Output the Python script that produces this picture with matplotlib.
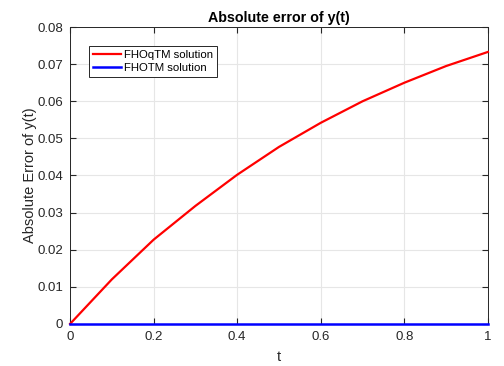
import matplotlib
matplotlib.use("Agg")
import matplotlib.pyplot as plt

plt.rcParams['font.family'] = ['Liberation Sans', 'DejaVu Sans']

t = [0.0, 0.1, 0.2, 0.3, 0.4, 0.5, 0.6, 0.7, 0.8, 0.9, 1.0]
err_fhoqtm = [0.0, 0.0120, 0.0227, 0.0318, 0.0402, 0.0477, 0.0542, 0.0600, 0.0650, 0.0695, 0.0733]
err_fhotm = [0.0, 0.0, 0.0, 0.0, 0.0, 0.0, 0.0, 0.0, 0.0, 0.0, 0.0]

fig = plt.figure(figsize=(5.04, 3.66), dpi=100)
ax = fig.add_axes([0.139, 0.115, 0.829, 0.811])

ax.plot(t, err_fhoqtm, color='#ff0000', linewidth=1.6, label='FHOqTM solution', clip_on=False, zorder=3)
ax.plot(t, err_fhotm, color='#0000ff', linewidth=1.8, label='FHOTM solution', clip_on=False, zorder=4)

ax.set_xlim(0, 1)
ax.set_ylim(0, 0.08)
ax.set_xticks([0, 0.2, 0.4, 0.6, 0.8, 1])
ax.set_xticklabels(['0', '0.2', '0.4', '0.6', '0.8', '1'])
ax.set_yticks([0, 0.01, 0.02, 0.03, 0.04, 0.05, 0.06, 0.07, 0.08])
ax.set_yticklabels(['0', '0.01', '0.02', '0.03', '0.04', '0.05', '0.06', '0.07', '0.08'])

ax.grid(True, color='#e6e6e6', linewidth=0.8)
ax.set_axisbelow(True)
ax.tick_params(direction='in', top=True, right=True, labelsize=9.5, colors='#262626', length=4, pad=5)
for s in ax.spines.values():
    s.set_color('#262626')
    s.set_linewidth(0.7)

ax.set_title('Absolute error of y(t)', fontsize=10.3, fontweight='bold', pad=3.5)
ax.set_xlabel('t', fontsize=10.5, color='#262626', labelpad=5)
ax.set_ylabel('Absolute Error of y(t)', fontsize=10.5, color='#262626', labelpad=0)

leg = ax.legend(loc='upper left', bbox_to_anchor=(0.045, 0.936), fontsize=8.2,
                fancybox=False, framealpha=1, edgecolor='#262626',
                handlelength=2.5, handletextpad=0.25, borderaxespad=0,
                borderpad=0.35, labelspacing=0.22)
leg.get_frame().set_linewidth(0.7)

fig.savefig('out.png', dpi=100)
